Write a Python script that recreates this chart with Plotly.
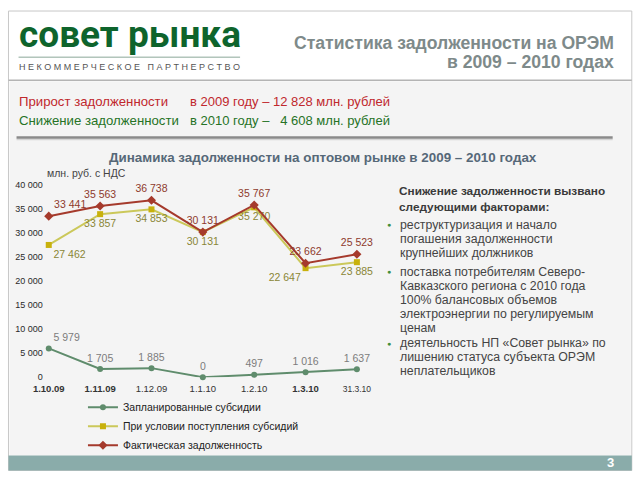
import plotly.graph_objects as go

# ---------------- data ----------------
dates = ["1.10.09", "1.11.09", "1.12.09", "1.1.10", "1.2.10", "1.3.10", "31.3.10"]
date_labels = ["<b>1.10.09</b>", "<b>1.11.09</b>", "1.12.09", "1.1.10", "1.2.10", "<b>1.3.10</b>",
               "<span style='font-size:8.5px'>31.3.10</span>"]
planned = [5979, 1705, 1885, 0, 497, 1016, 1637]
with_subsidies = [27462, 33857, 34853, 30131, 35270, 22647, 23885]
actual = [33441, 35563, 36738, 30131, 35767, 23662, 25523]
y_ticks = [0, 5000, 10000, 15000, 20000, 25000, 30000, 35000, 40000]
y_tick_labels = ["0", "5 000", "10 000", "15 000", "20 000", "25 000", "30 000", "35 000", "40 000"]
series_names = ["Запланированные субсидии", "При условии поступления субсидий", "Фактическая задолженность"]

FONT = "Arial, Liberation Sans, sans-serif"
W, H = 640, 480

# empirical correction between layout pixels and the photographed page
SX, OX = 0.976, 12.5
SY, OY = 0.976, 5.0


def px(X):
    return ((X - OX) / SX) / W


def py(Y):
    return 1 - ((Y - OY) / SY) / H


def fmt(v):
    return f"{v:,}".replace(",", "\u00a0")


xs = list(range(len(dates)))

fig = go.Figure()

fig.add_trace(go.Scatter(
    x=xs, y=planned, name=series_names[0], mode="lines+markers+text",
    line=dict(color="#5f8c6c", width=2), marker=dict(symbol="circle", size=6, color="#5f8c6c"),
    text=[fmt(v) for v in planned],
    textposition=["top right", "top center", "top center", "top center", "top center", "top center", "top center"],
    textfont=dict(family=FONT, size=10.5, color="#7c7c7c"), cliponaxis=False,
))
fig.add_trace(go.Scatter(
    x=xs, y=with_subsidies, name=series_names[1], mode="lines+markers+text",
    line=dict(color="#cbc85a", width=2), marker=dict(symbol="square", size=6, color="#c8b10c"),
    text=[fmt(v) for v in with_subsidies],
    textposition=["bottom right", "bottom center", "bottom center", "bottom center", "bottom center", "bottom left", "bottom center"],
    textfont=dict(family=FONT, size=10.5, color="#8a8636"), cliponaxis=False,
))
fig.add_trace(go.Scatter(
    x=xs, y=actual, name=series_names[2], mode="lines+markers+text",
    line=dict(color="#a53a2c", width=2), marker=dict(symbol="diamond", size=7, color="#a53a2c"),
    text=[fmt(v) for v in actual],
    textposition=["top right", "top center", "top center", "top center", "top center", "top center", "top center"],
    textfont=dict(family=FONT, size=10.5, color="#8e3a2c"), cliponaxis=False,
))

# plot area (photo pixels): x 0 -> 50, x 6 -> 356 ; y 0 -> 376, 40000 -> 184
left_px, right_px = 45, 380
step = (356 - 50) / 6
x0 = (left_px - 50) / step
x1 = 6 + (right_px - 356) / step

shapes = [
    dict(type="rect", xref="paper", yref="paper", x0=px(10), x1=px(629), y0=py(469), y1=py(11),
         line=dict(color="#c8c8c8", width=1), fillcolor="white", layer="below"),
    dict(type="rect", xref="paper", yref="paper", x0=px(11), x1=px(628), y0=py(454), y1=py(81),
         line=dict(width=0), fillcolor="#f4f4f4", layer="below"),
    dict(type="line", xref="paper", yref="paper", x0=px(10), x1=px(629), y0=py(80), y1=py(80),
         line=dict(color="#b4b4b4", width=1.5), layer="below"),
    dict(type="rect", xref="paper", yref="paper", x0=px(10), x1=px(629), y0=py(469), y1=py(454),
         line=dict(width=0), fillcolor="#8aacaa", layer="below"),
    dict(type="line", xref="paper", yref="paper", x0=px(18), x1=px(610), y0=py(139), y1=py(139),
         line=dict(color="#d4d4d4", width=1.5), layer="below"),
    dict(type="line", xref="paper", yref="paper", x0=px(18), x1=px(610), y0=py(137), y1=py(137),
         line=dict(color="#8a8a8a", width=2.5), layer="below"),
    dict(type="line", xref="paper", yref="paper", x0=px(20), x1=px(240), y0=py(57), y1=py(57),
         line=dict(color="#8aa898", width=1), layer="below"),
]

ann = []


def A(x, y, text, size, color, xanchor="left", bold=False, family=FONT, align="left", yanchor="middle"):
    if bold:
        text = f"<b>{text}</b>"
    ann.append(dict(x=px(x), y=py(y), xref="paper", yref="paper", text=text, showarrow=False,
                    xanchor=xanchor, yanchor=yanchor, align=align, borderpad=0,
                    font=dict(family=family, size=size, color=color)))


# header
A(19, 34, "совет рынка", 37, "#0e642c", bold=True, family="Roboto, Arial, sans-serif")
A(19, 67, "Н Е К О М М Е Р Ч Е С К О Е &nbsp;&nbsp;П А Р Т Н Е Р С Т В О", 9, "#555555")
A(612, 43, "Статистика задолженности на ОРЭМ", 17.6, "#7e8a8a", xanchor="right", bold=True)
A(612, 62, "в 2009 – 2010 годах", 17.6, "#7e8a8a", xanchor="right", bold=True)

A(19, 101, "Прирост задолженности", 13.2, "#c0282d")
A(189, 101, "в 2009 году – 12 828 млн. рублей", 13, "#c0282d")
A(19, 120, "Снижение задолженности", 13.2, "#267326")
A(189, 120, "в 2010 году – &nbsp;&nbsp;4 608 млн. рублей", 13, "#267326")

A(322, 157, "Динамика задолженности на оптовом рынке в 2009 – 2010 годах", 13.4, "#566878",
  xanchor="center", bold=True)
A(47, 172, "млн. руб. с НДС", 10.5, "#444444")

# right text block
right_lines = [
    (190, "Снижение задолженности вызвано", True),
    (206, "следующими факторами:", True),
    (224, "реструктуризация и начало", False),
    (238, "погашения задолженности", False),
    (252, "крупнейших должников", False),
    (271, "поставка потребителям Северо-", False),
    (285, "Кавказского региона с 2010 года", False),
    (299, "100% балансовых объемов", False),
    (313, "электроэнергии по регулируемым", False),
    (327, "ценам", False),
    (342, "деятельность НП «Совет рынка» по", False),
    (356, "лишению статуса субъекта ОРЭМ", False),
    (370, "неплательщиков", False),
]
for yy, t, b in right_lines:
    if b:
        A(397, yy, t, 11.8, "#3a3a3a", bold=True)
    else:
        A(398, yy, t, 12.3, "#444444")
for yb in (224, 271, 342):
    A(388, yb, "●", 7, "#3e8e3e", xanchor="center")

A(612, 461, "3", 13, "white", xanchor="right", bold=True)

legend_x = (123 - OX) / SX - 40
legend_y = 396

fig.update_layout(
    width=W, height=H, margin=dict(l=0, r=0, t=0, b=0),
    paper_bgcolor="white", plot_bgcolor="rgba(0,0,0,0)",
    font=dict(family=FONT),
    shapes=shapes, annotations=ann,
    xaxis=dict(domain=[px(left_px), px(right_px)], range=[x0, x1], tickvals=xs, ticktext=date_labels,
               showgrid=False, zeroline=False, showline=False, ticks="",
               tickfont=dict(family=FONT, size=9.5, color="#333333"), ticklabelstandoff=4),
    yaxis=dict(domain=[py(376), py(184)], range=[0, 40000], tickvals=y_ticks, ticktext=y_tick_labels,
               showgrid=False, zeroline=False, showline=False, ticks="",
               tickfont=dict(family=FONT, size=9, color="#2a2a2a"), ticklabelstandoff=0),
    legend=dict(x=legend_x / W, y=1 - legend_y / H, xanchor="left", yanchor="top", orientation="v",
                bgcolor="rgba(0,0,0,0)", font=dict(family=FONT, size=10.5, color="#222222"),
                tracegroupgap=0, itemwidth=30),
    showlegend=True,
)

fig.write_html("out.html")
